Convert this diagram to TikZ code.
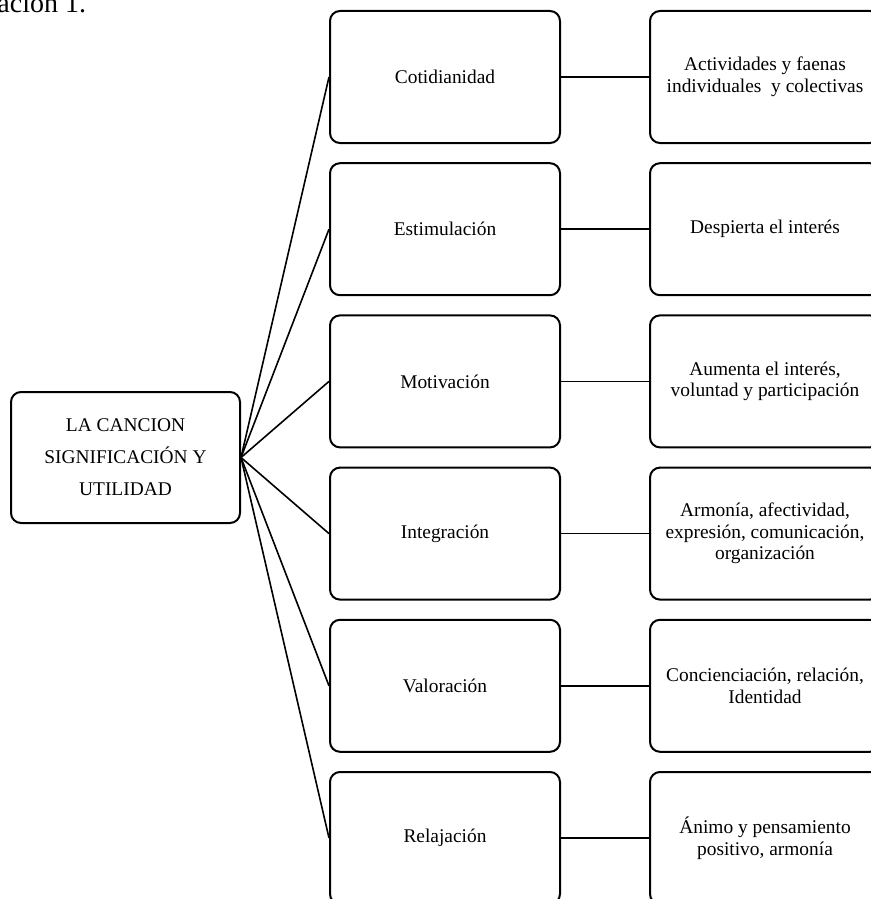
\documentclass[tikz,border=0pt]{standalone}
\usepackage{fontspec}
\setmainfont{Liberation Serif}
\usetikzlibrary{positioning}

\begin{document}
\begin{tikzpicture} [ x=0.5pt, y=-0.5pt
								, node distance =9.1pt and 44pt
								, caja/.style={rectangle, rounded corners=5pt, minimum width=115pt, minimum height=66pt, line width=1pt, draw, align=center, font=\fontsize{9.7}{10.8}\selectfont}
								, raiz/.style={caja, minimum width=114.5pt, minimum height=65.5pt, font=\fontsize{9.7}{16}\selectfont}
								, conector/.style ={draw, line width=.8pt}
								]
	\useasboundingbox (0,0) rectangle (871,899);

	\node (titulo) 			[anchor=base west, inner sep=0pt, font=\fontsize{14}{16}\selectfont] at (-3,13) {ación 1.};

	\node (Cancion) 		[raiz] at (125.5,457.5) {LA CANCION\\SIGNIFICACIÓN Y\\UTILIDAD};

	\node (Cotidianidad) 	[caja] at (445,77) {Cotidianidad};
	\node (Estimulacion) 	[caja, below=of Cotidianidad] {Estimulación};
	\node (Motivacion) 		[caja, below=of Estimulacion] {Motivación};
	\node (Integracion) 	[caja, below=of Motivacion] {Integración};
	\node (Valoracion) 		[caja, below=of Integracion] {Valoración};
	\node (Relajacion) 		[caja, below=of Valoracion] {Relajación};

	\node (Faenas) 			[caja, right=of Cotidianidad] {Actividades y faenas\\individuales~ y colectivas};
	\node (Interes) 			[caja, right=of Estimulacion] {Despierta el interés};
	\node (Voluntad) 		[caja, right=of Motivacion] {Aumenta el interés,\\voluntad y participación};
	\node (Armonia) 		[caja, right=of Integracion] {Armonía, afectividad,\\expresión, comunicación,\\organización};
	\node (Identidad) 		[caja, right=of Valoracion] {Concienciación, relación,\\Identidad};
	\node (Animo) 			[caja, right=of Relajacion] {Ánimo y pensamiento\\positivo, armonía};

	\draw [conector] (Cancion.east) -- (Cotidianidad.west);
	\draw [conector] (Cancion.east) -- (Estimulacion.west);
	\draw [conector] (Cancion.east) -- (Motivacion.west);
	\draw [conector] (Cancion.east) -- (Integracion.west);
	\draw [conector] (Cancion.east) -- (Valoracion.west);
	\draw [conector] (Cancion.east) -- (Relajacion.west);

	\draw [conector] (Cotidianidad) -- (Faenas);
	\draw [conector] (Estimulacion) -- (Interes);
	\draw [conector] (Motivacion) -- (Voluntad);
	\draw [conector] (Integracion) -- (Armonia);
	\draw [conector] (Valoracion) -- (Identidad);
	\draw [conector] (Relajacion) -- (Animo);

\end{tikzpicture}
\end{document}
